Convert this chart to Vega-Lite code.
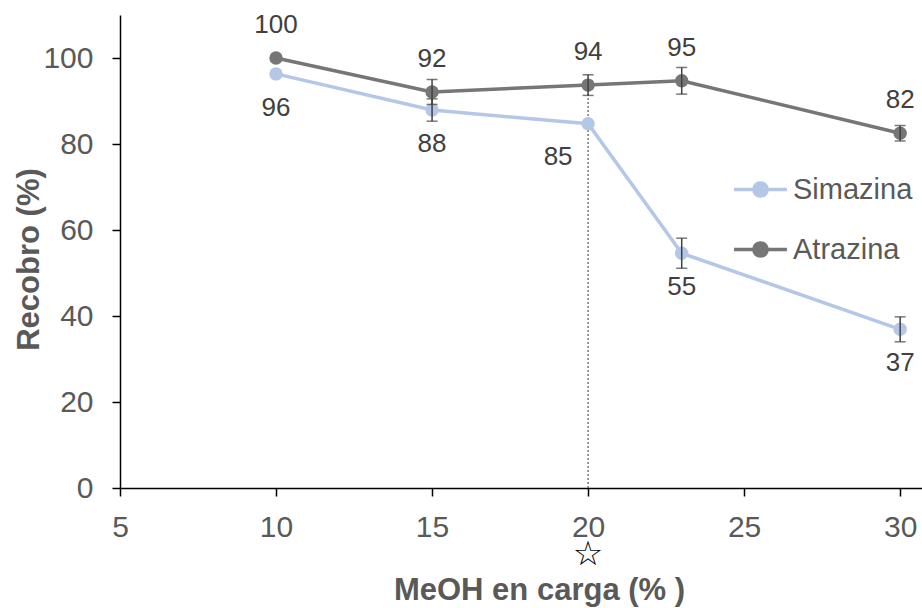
{
  "$schema": "https://vega.github.io/schema/vega-lite/v6.json",
  "width": 802,
  "height": 473,
  "autosize": {"type": "none"},
  "padding": {"left": 120, "top": 15, "right": 0, "bottom": 120},
  "background": "white",
  "config": {
    "view": {"stroke": null},
    "font": "Liberation Sans",
    "axis": {
      "grid": false,
      "domainColor": "black",
      "domainWidth": 1.5,
      "tickColor": "black",
      "tickWidth": 1.5,
      "tickSize": 8,
      "labelColor": "#595959",
      "labelFontSize": 30,
      "labelFont": "Liberation Sans",
      "labelFlush": false,
      "titleColor": "#595959",
      "titleFontSize": 31,
      "titleFont": "Liberation Sans",
      "titleFontWeight": "bold"
    }
  },
  "data": {
    "values": [
      {"series": "Simazina", "x": 10, "y": 96.3, "err": 0, "label": "96"},
      {"series": "Simazina", "x": 15, "y": 87.9, "err": 2.6, "label": "88"},
      {"series": "Simazina", "x": 20, "y": 84.7, "err": 0, "label": "85"},
      {"series": "Simazina", "x": 23, "y": 54.6, "err": 3.5, "label": "55"},
      {"series": "Simazina", "x": 30, "y": 36.9, "err": 2.9, "label": "37"},
      {"series": "Atrazina", "x": 10, "y": 100, "err": 0, "label": "100"},
      {"series": "Atrazina", "x": 15, "y": 92.1, "err": 2.9, "label": "92"},
      {"series": "Atrazina", "x": 20, "y": 93.7, "err": 2.4, "label": "94"},
      {"series": "Atrazina", "x": 23, "y": 94.7, "err": 3.1, "label": "95"},
      {"series": "Atrazina", "x": 30, "y": 82.5, "err": 1.8, "label": "82"}
    ]
  },
  "encoding": {
    "x": {
      "field": "x",
      "type": "quantitative",
      "scale": {"domain": [5, 30.7], "nice": false, "zero": false},
      "axis": {
        "values": [5, 10, 15, 20, 25, 30],
        "title": "MeOH en carga (% )",
        "labelPadding": 16,
        "titleX": 419,
        "titleY": 102,
        "titleBaseline": "middle",
        "titleAnchor": null
      }
    },
    "y": {
      "field": "y",
      "type": "quantitative",
      "scale": {"domain": [0, 110], "nice": false},
      "axis": {
        "values": [0, 20, 40, 60, 80, 100],
        "title": "Recobro (%)",
        "labelPadding": 19,
        "titleX": -91,
        "titleY": 244,
        "titleAngle": -90,
        "titleAlign": "center",
        "titleBaseline": "middle",
        "titleAnchor": null
      }
    }
  },
  "layer": [
    {
      "transform": [{"filter": "datum.series == 'Atrazina' && datum.x == 20"}],
      "mark": {"type": "rule", "strokeDash": [2, 2], "color": "#303030", "strokeWidth": 1},
      "encoding": {"y": {"datum": 0}, "y2": {"field": "y"}}
    },
    {
      "mark": {"type": "line", "strokeWidth": 3.5},
      "encoding": {
        "color": {
          "field": "series",
          "type": "nominal",
          "scale": {"domain": ["Simazina", "Atrazina"], "range": ["#b4c7e7", "#767676"]},
          "legend": {
            "title": null,
            "orient": "none",
            "legendX": 612,
            "legendY": 146,
            "symbolType": "M-1,0H1M-0.25,0A0.25,0.25 0 1,1 0.25,0A0.25,0.25 0 1,1 -0.25,0",
            "symbolSize": 2800,
            "symbolStrokeWidth": 3.5,
            "labelFontSize": 29,
            "labelColor": "#595959",
            "labelFont": "Liberation Sans",
            "labelOffset": 4,
            "rowPadding": 16,
            "encode": {
              "symbols": {
                "update": {
                  "fill": {"scale": "color", "field": "value"},
                  "stroke": {"scale": "color", "field": "value"},
                  "fillOpacity": {"value": 1}
                }
              }
            }
          }
        }
      }
    },
    {
      "mark": {"type": "point", "filled": true, "size": 180, "opacity": 1},
      "encoding": {
        "color": {"field": "series", "type": "nominal", "legend": null}
      }
    },
    {
      "transform": [
        {"filter": "datum.err > 0"},
        {"calculate": "datum.y - datum.err", "as": "ylo"},
        {"calculate": "datum.y + datum.err", "as": "yhi"}
      ],
      "mark": {"type": "errorbar", "color": "#404040", "thickness": 1.5, "ticks": {"size": 11, "color": "#404040", "thickness": 1.5}},
      "encoding": {
        "y": {"field": "ylo", "type": "quantitative"},
        "y2": {"field": "yhi"}
      }
    },
    {
      "transform": [{"filter": "datum.series == 'Atrazina'"}],
      "mark": {"type": "text", "dy": -33, "fontSize": 26, "color": "#404040", "font": "Liberation Sans"},
      "encoding": {"text": {"field": "label"}}
    },
    {
      "transform": [{"filter": "datum.series == 'Simazina' && datum.x != 20"}],
      "mark": {"type": "text", "dy": 34, "fontSize": 26, "color": "#404040", "font": "Liberation Sans"},
      "encoding": {"text": {"field": "label"}}
    },
    {
      "transform": [{"filter": "datum.series == 'Simazina' && datum.x == 20"}],
      "mark": {"type": "text", "dy": 33, "dx": -30, "fontSize": 26, "color": "#404040", "font": "Liberation Sans"},
      "encoding": {"text": {"field": "label"}}
    },
    {
      "transform": [{"filter": "datum.series == 'Atrazina' && datum.x == 20"}],
      "mark": {"type": "text", "fontSize": 34, "color": "black", "font": "DejaVu Sans", "baseline": "middle"},
      "encoding": {"y": {"datum": -15.6}, "text": {"value": "☆"}}
    }
  ]
}
